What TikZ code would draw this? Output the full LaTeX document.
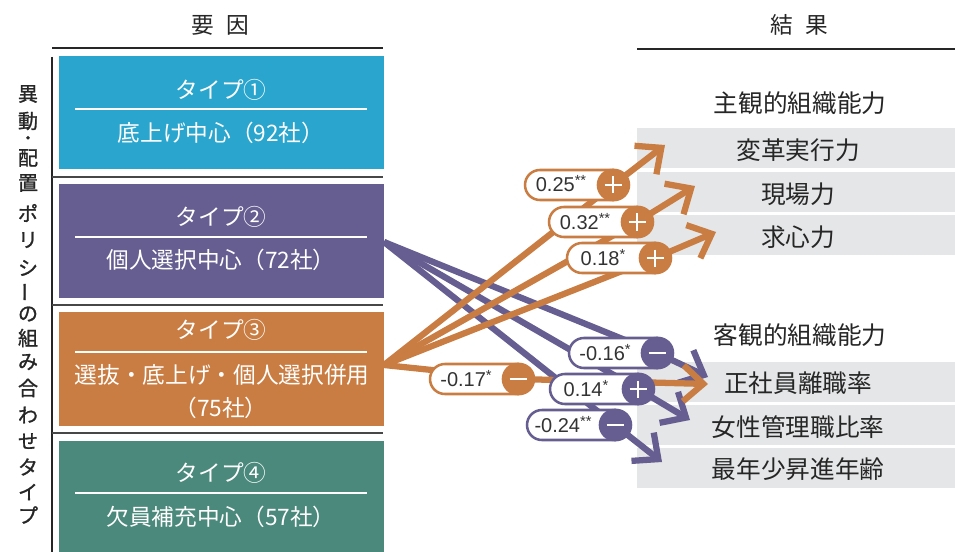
\documentclass[tikz,border=0pt]{standalone}
\usepackage{fontspec}
\setmainfont{Noto Sans CJK JP}
\newfontfamily\vfont[FakeBold=1.2]{Noto Sans CJK JP}
\newfontfamily\numfont{Liberation Sans}
\usetikzlibrary{arrows.meta,calc}
\definecolor{cblue}{HTML}{2AA5CD}
\definecolor{cpurple}{HTML}{665E90}
\definecolor{corange}{HTML}{C97D42}
\definecolor{cteal}{HTML}{4A897B}
\definecolor{cgray}{HTML}{E5E6E8}
\definecolor{ctext}{HTML}{262626}
\definecolor{cnum}{HTML}{333333}
\tikzset{
  boxtxt/.style={text=white, font=\fontsize{17}{20}\selectfont, inner sep=0pt},
  restxt/.style={text=ctext, font=\fontsize{18.5}{22}\selectfont, inner sep=0pt},
  hdrtxt/.style={text=ctext, font=\fontsize{17}{20}\selectfont, inner sep=0pt},
  vtxt/.style={text=ctext, font=\vfont\fontsize{15}{18}\selectfont, inner sep=0pt},
  wline/.style={white, line width=0.8pt},
  sepline/.style={draw=ctext!85, line width=0.9pt},
  rulebar/.style={draw=ctext, line width=1.8pt},
  resbox/.style={fill=cgray},
  conn/.style={line width=4.7pt, line cap=butt, line join=round, -{Straight Barb[length=15pt,width=27pt,line width=4.7pt,line cap=butt,line join=miter]}},
  pill/.style={draw=#1, line width=1.9pt, fill=white, rounded corners=11.2pt, minimum width=78pt, minimum height=22.5pt, inner sep=0pt},
  signc/.style={circle, fill=#1, minimum size=24.5pt, inner sep=0pt},
  signline/.style={white, line width=2.2pt},
  pilltxt/.style={text=cnum, font=\numfont\fontsize{15}{15}\selectfont, inner sep=0pt, anchor=base},
}
\newcommand\stars[1]{\raisebox{0.3em}{\fontsize{11}{11}\selectfont #1}}
\newcommand\pillbase[3]{%
  \node[pill=#2] (#1p) at ($(#1)+(-36,0)$) {};
  \node[pilltxt] (#1t) at ($(#1)+(-52,7)$) {#3};
  \node[signc=#2] (#1c) at (#1) {};
  \draw[signline] ($(#1)+(-8.5,0)$) -- ($(#1)+(8.5,0)$);
}
\newcommand\pillplus[3]{\pillbase{#1}{#2}{#3}\draw[signline] ($(#1)+(0,-8.5)$) -- ($(#1)+(0,8.5)$);}
\newcommand\pillminus[3]{\pillbase{#1}{#2}{#3}}

\begin{document}
\begin{tikzpicture}[x=0.75pt,y=-0.75pt]
\useasboundingbox (0,0) rectangle (955,552);

% ---------- left side ----------
\node[hdrtxt] (h1) at (220,25) {要\hspace{0.55em}因};
\draw[rulebar] (52,48) -- (383,48);
\draw[rulebar] (52,57) -- (52,552);
\draw[sepline] (52,177) -- (383,177);
\draw[sepline] (52,305) -- (383,305);
\draw[sepline] (52,433) -- (383,433);

\foreach \ch/\yy [count=\i] in {異/94, 動/121, 配/158, 置/183, ポ/213, リ/240, シ/268, の/314, 組/338, み/362, 合/388, わ/415, せ/441, タ/467, イ/492, プ/515}
  \node[vtxt] (v\i) at (28,\yy) {\ch};
\node[vtxt, font=\vfont\fontsize{12}{12}\selectfont] (vdot) at (28,140) {・};
\node[vtxt, rotate=90] (vbar) at (28,292) {ー};

\fill[cblue] (59,56) rectangle (384,169);
\fill[cpurple] (59,184) rectangle (384,298);
\fill[corange] (59,312) rectangle (384,426);
\fill[cteal] (59,441) rectangle (384,552);

\node[boxtxt] (b1a) at (221,90) {タイプ①};
\draw[wline] (75,109) -- (367,109);
\node[boxtxt] (b1b) at (221,133) {底上げ中心（92社）};

\node[boxtxt] (b2a) at (221,217) {タイプ②};
\draw[wline] (75,237) -- (367,237);
\node[boxtxt] (b2b) at (221,260) {個人選択中心（72社）};

\node[boxtxt] (b3a) at (221,330) {タイプ③};
\draw[wline] (75,352) -- (367,352);
\node[boxtxt] (b3b) at (222,375) {選抜・底上げ・個人選択併用};
\node[boxtxt] (b3c) at (221,408) {（75社）};

\node[boxtxt] (b4a) at (221,473) {タイプ④};
\draw[wline] (75,493) -- (367,493);
\node[boxtxt] (b4b) at (221,517) {欠員補充中心（57社）};

% ---------- right side ----------
\node[hdrtxt] (h2) at (799,25) {結\hspace{0.55em}果};
\draw[rulebar] (637,49) -- (955,49);

\node[restxt] (g1) at (800,103) {主観的組織能力};
\fill[resbox] (637,128) rectangle (955,168);
\fill[resbox] (637,172) rectangle (955,212);
\fill[resbox] (637,215) rectangle (955,255);
\node[restxt] (r1) at (798,150) {変革実行力};
\node[restxt] (r2) at (798,194) {現場力};
\node[restxt] (r3) at (798,237) {求心力};

\node[restxt] (g2) at (800,335) {客観的組織能力};
\fill[resbox] (637,362) rectangle (955,402);
\fill[resbox] (637,405) rectangle (955,445);
\fill[resbox] (637,448) rectangle (955,488);
\node[restxt] (r4) at (798,383) {正社員離職率};
\node[restxt] (r5) at (798,427) {女性管理職比率};
\node[restxt] (r6) at (798,469) {最年少昇進年齢};

% ---------- connectors ----------
\coordinate (s2) at (384,242);
\coordinate (s3) at (384,365);
\coordinate (o25) at (613,185); \coordinate (to25) at (665,145);
\coordinate (o32) at (637,222); \coordinate (to32) at (695,186);
\coordinate (o18) at (655,258); \coordinate (to18) at (716,232);
\coordinate (o17) at (518,379); \coordinate (to17) at (708,384);
\coordinate (p16) at (657,353); \coordinate (tp16) at (708,377);
\coordinate (p14) at (638,389); \coordinate (tp14) at (690,420);
\coordinate (p24) at (615,425); \coordinate (tp24) at (662,462);

\draw[conn, cpurple] (s2) -- (p16) -- (tp16);
\draw[conn, cpurple] (s2) -- (p14) -- (tp14);
\draw[conn, cpurple] (s2) -- (p24) -- (tp24);
\draw[conn, corange] (s3) -- (o25) -- (to25);
\draw[conn, corange] (s3) -- (o32) -- (to32);
\draw[conn, corange] (s3) -- (o18) -- (to18);
\draw[conn, corange] (s3) -- (o17) -- (to17);

% ---------- coefficient pills ----------
\pillplus{o25}{corange}{0.25\stars{**}}
\pillplus{o32}{corange}{0.32\stars{**}}
\pillplus{o18}{corange}{0.18\stars{*}}
\pillminus{o17}{corange}{-0.17\stars{*}}
\pillminus{p16}{cpurple}{-0.16\stars{*}}
\pillplus{p14}{cpurple}{0.14\stars{*}}
\pillminus{p24}{cpurple}{-0.24\stars{**}}
\end{tikzpicture}
\end{document}
